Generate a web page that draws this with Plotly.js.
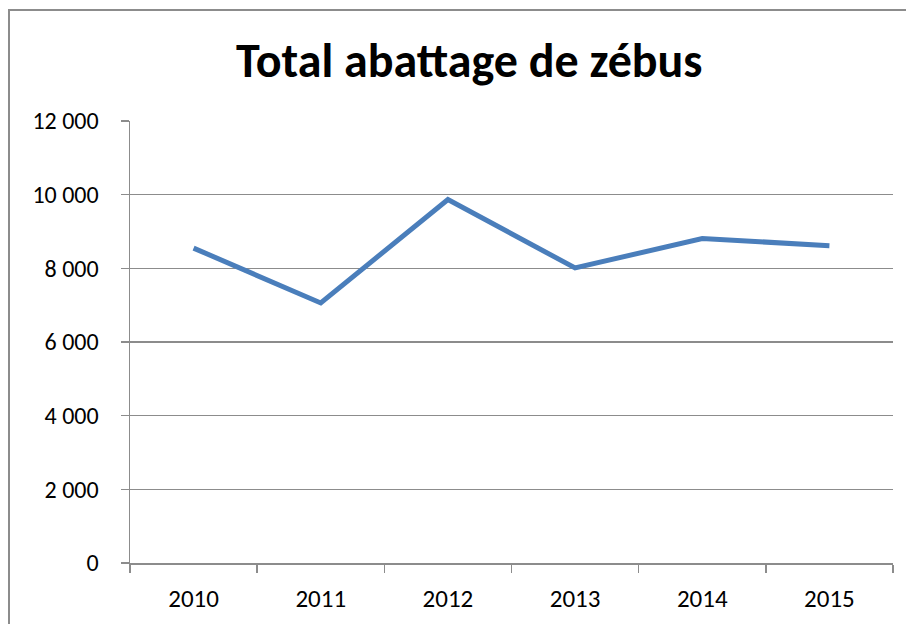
<!DOCTYPE html>
<html><head><meta charset="utf-8">
<script src="https://cdn.plot.ly/plotly-3.0.1.min.js"></script>
<style>
html,body{margin:0;padding:0;background:#fff;overflow:hidden;}
#frame{position:absolute;left:8px;top:9px;width:1000px;height:700px;border:2px solid #8c8c8c;box-sizing:border-box;}
#chart{position:absolute;left:0;top:0;width:906px;height:624px;}
</style></head>
<body>
<div id="frame"></div>
<div id="chart"></div>
<script>
const years = ['2010','2011','2012','2013','2014','2015'];
const abattage = [8550, 7060, 9870, 8010, 8810, 8615];
const yTicks = [0, 2000, 4000, 6000, 8000, 10000, 12000];

const trace = {
  x: years, y: abattage, type: 'scatter', mode: 'lines',
  line: {color: '#4a7ebb', width: 5}, hoverinfo: 'skip'
};
const font = "Carlito, Calibri, Lato, 'Open Sans', sans-serif";
const layout = {
  width: 906, height: 624,
  paper_bgcolor: 'rgba(0,0,0,0)', plot_bgcolor: 'rgba(0,0,0,0)',
  separators: ', ',
  margin: {l: 130, r: 13, t: 121, b: 61},
  showlegend: false,
  title: {text: '<b>Total abattage de zébus</b>', font: {family: font, size: 48, color: '#000'},
          xref: 'container', x: 0.518, xanchor: 'center', yref: 'container', y: 0.903, yanchor: 'middle'},
  xaxis: {type: 'category', range: [-0.5, 5.5], tickson: 'boundaries', ticks: 'outside', ticklen: 8, tickcolor: '#8c8c8c', tickwidth: 1.5,
          showline: true, linecolor: '#8c8c8c', linewidth: 1.5, showgrid: false, zeroline: false,
          tickfont: {family: font, size: 25, color: '#000'}, ticklabelstandoff: 12, fixedrange: true},
  yaxis: {range: [0, 12000], tickvals: yTicks, tickformat: ',d', ticks: 'outside', ticklen: 8,
          tickcolor: '#8c8c8c', tickwidth: 1.5, showline: true, linecolor: '#8c8c8c', linewidth: 1.5,
          showgrid: true, gridcolor: '#8c8c8c', gridwidth: 1.5, zeroline: false,
          tickfont: {family: font, size: 24, color: '#000'}, ticklabelstandoff: 17, fixedrange: true}
};
Plotly.newPlot('chart', [trace], layout, {displayModeBar: false, staticPlot: true});
</script>
</body></html>
